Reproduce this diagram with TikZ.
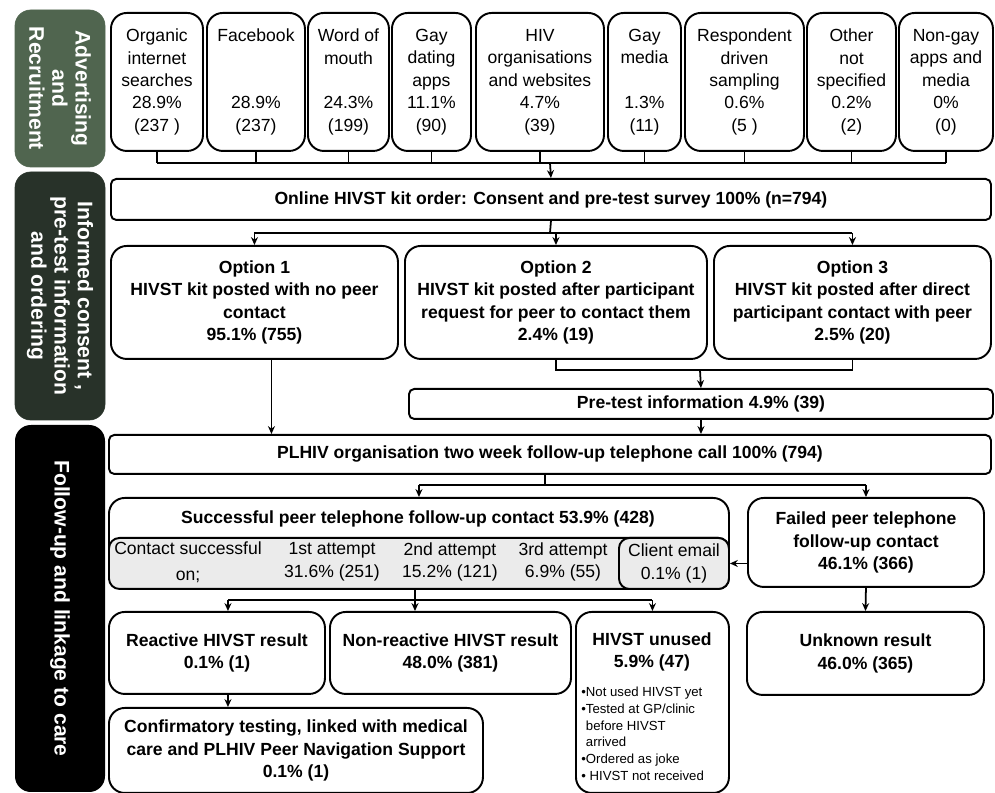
\documentclass[tikz,border=0pt]{standalone}
\usepackage{fontspec}
\setmainfont{Liberation Sans}
\usetikzlibrary{arrows.meta,positioning,calc}
\definecolor{advgreen}{HTML}{50654F}
\definecolor{infgreen}{HTML}{283229}
\definecolor{cellgray}{HTML}{EBEBEB}
\tikzset{
sz/.style 2 args={minimum width=#1*0.02cm, minimum height=#2*0.02cm},
box/.style={draw, line width=1.1pt, rounded corners=9pt, align=center, inner sep=0pt, anchor=north west},
bbox/.style={box, font=\fontsize{10}{12.8}\selectfont\bfseries},
bar/.style={bbox, rounded corners=3pt},
cell/.style={box, fill=cellgray, rounded corners=6pt},
side/.style={rotate=-90, rounded corners=9pt, text=white, align=center, inner sep=0pt, font=\fontsize{12}{13.2}\selectfont\bfseries},
arr/.style={-{Stealth[length=4.5pt,width=4pt]}, line width=1pt},
ln/.style={line width=1pt},
}
\tikzstyle{every node}=[font=\fontsize{10}{12.8}\selectfont]

\begin{document}
\begin{tikzpicture}[x=0.02cm, y=-0.02cm]
    \useasboundingbox (0,0) rectangle (995,793);

    % stage labels
    \node[side, fill=advgreen, draw=advgreen, sz={157}{90}] (adv) at (60,88.5) {Advertising\\and\\Recruitment};
    \node[side, fill=infgreen, draw=infgreen, sz={248}{90}] (inf) at (60,296) {Informed consent ,\\pre-test information\\and ordering};
    \node[side, fill=black, sz={367}{90}] (fol) at (60,608.5) {Follow-up and linkage to care};

    % recruitment sources
    \node[box, sz={92}{138}] (organic) at (110,12) {Organic\\internet\\searches\\28.9\%\\(237 )};
    \node[box, sz={98}{138}] (facebook) at (206,12) {Facebook\\~\\~\\28.9\%\\(237)};
    \node[box, sz={81}{138}] (wom) at (307,12) {Word of\\mouth\\~\\24.3\%\\(199)};
    \node[box, sz={79}{138}] (gayapps) at (391,12) {Gay\\dating\\apps\\11.1\%\\(90)};
    \node[box, sz={128}{138}] (hivorg) at (475,12) {HIV\\organisations\\and websites\\4.7\%\\(39)};
    \node[box, sz={73}{138}] (gaymedia) at (607,12) {Gay\\media\\~\\1.3\%\\(11)};
    \node[box, sz={119}{138}] (rds) at (684,12) {Respondent\\driven\\sampling\\0.6\%\\(5 )};
    \node[box, sz={89}{138}] (other) at (806,12) {Other\\not\\specified\\0.2\%\\(2)};
    \node[box, sz={94}{138}] (nongay) at (898,12) {Non-gay\\apps and\\media\\0\%\\(0)};

    \node[bar, sz={880}{41}] (online) at (110,178) {Online HIVST kit order: Consent and pre-test survey 100\% (n=794)};

    \coordinate (jtop) at (550,163);
    \foreach \n in {organic,facebook,wom,gayapps,hivorg,gaymedia,rds,other,nongay}
        \draw[ln] (\n.south) -- (\n.south |- jtop);
    \draw[ln] (organic.south |- jtop) -- (nongay.south |- jtop);
    \draw[arr] (jtop) -- (online.north);

    % ordering options
    \node[bbox, sz={287}{113}] (opt1) at (110,245) {Option 1\\HIVST kit posted with no peer\\contact\\95.1\% (755)};
    \node[bbox, sz={302}{113}] (opt2) at (404,245) {Option 2\\HIVST kit posted after participant\\request for peer to contact them\\2.4\% (19)};
    \node[bbox, sz={277}{113}] (opt3) at (713,245) {Option 3\\HIVST kit posted after direct\\participant contact with peer\\2.5\% (20)};

    \coordinate (jopt) at (550,233);
    \draw[ln] (online.south) -- (jopt);
    \draw[ln] (opt1.north |- jopt) -- (opt3.north |- jopt);
    \foreach \n in {opt1,opt2,opt3}
        \draw[arr] (\n.north |- jopt) -- (\n.north);

    \node[bar, sz={584}{30}] (pretest) at (408,388) {Pre-test information 4.9\% (39)};
    \coordinate (jpre) at (700,370);
    \draw[ln] (opt2.south) -- (opt2.south |- jpre) -- (opt3.south |- jpre) -- (opt3.south);
    \draw[arr] (jpre) -- (pretest.north);

    % follow-up
    \node[bar, sz={882}{39}] (plhiv) at (108,434) {PLHIV organisation two week follow-up telephone call 100\% (794)};
    \draw[arr] (pretest.south) -- (pretest.south |- plhiv.north);
    \draw[arr] ([xshift=0.34cm]opt1.south) -- ([xshift=0.34cm]opt1.south |- plhiv.north);

    \node[box, sz={620}{91}] (succ) at (108,497) {};
    \node[font=\fontsize{10}{12.8}\selectfont\bfseries] (succtitle) at (418,519) {Successful peer telephone follow-up contact 53.9\% (428)};
    \node[cell, sz={620}{51}] (attempts) at (108,537) {};
    \node[cell, sz={110}{51}] (email) at (618,537) {Client email\\0.1\% (1)};
    \node[align=center] (conton) at (188,562) {Contact successful\\[2pt]on;};
    \node[align=center] (first) at (332,562) {1st attempt\\31.6\% (251)};
    \node[align=center] (second) at (450,562) {2nd attempt\\15.2\% (121)};
    \node[align=center] (third) at (563,562) {3rd attempt\\6.9\% (55)};

    \node[bbox, sz={236}{89}] (failed) at (747,497) {Failed peer telephone\\follow-up contact\\46.1\% (366)};

    \coordinate (jfu) at (545,485);
    \draw[ln] (plhiv.south -| jfu) -- (jfu);
    \draw[ln] (succ.north |- jfu) -- (failed.north |- jfu);
    \draw[arr] (succ.north |- jfu) -- (succ.north);
    \draw[arr] (failed.north |- jfu) -- (failed.north);
    \draw[arr] (email.east -| failed.west) -- (email.east);

    % results
    \node[bbox, sz={216}{82}] (reactive) at (108,611) {Reactive HIVST result\\0.1\% (1)};
    \node[bbox, sz={241}{82}] (nonreact) at (329,611) {Non-reactive HIVST result\\48.0\% (381)};
    \node[box, sz={153}{181}] (unused) at (575,611) {};
    \node[font=\fontsize{10}{12.8}\selectfont\bfseries, align=center] (unusedtitle) at (652,652) {HIVST unused\\5.9\% (47)};
    \node[font=\fontsize{7.5}{9.5}\selectfont, align=left, anchor=north west, inner sep=0pt] (reasons) at (581,687)
        {\textbullet Not used HIVST yet\\\textbullet Tested at GP/clinic\\\phantom{\textbullet}before HIVST\\\phantom{\textbullet}arrived\\\textbullet Ordered as joke\\\textbullet{} HIVST not received};
    \node[bbox, sz={237}{83}] (unknown) at (746,611) {Unknown result\\46.0\% (365)};
    \node[bbox, sz={374}{85}] (confirm) at (108,707) {Confirmatory testing, linked with medical\\care and PLHIV Peer Navigation Support\\0.1\% (1)};

    \coordinate (jres) at (415,600);
    \coordinate (rtop) at ([xshift=0.22cm]reactive.north);
    \draw[arr] (succ.south -| jres) -- (jres |- nonreact.north);
    \draw[ln] (rtop |- jres) -- (unused.north |- jres);
    \draw[arr] (rtop |- jres) -- (rtop);
    \draw[arr] (unused.north |- jres) -- (unused.north);
    \draw[arr] (failed.south) -- (unknown.north);
    \draw[arr] (rtop |- reactive.south) -- (rtop |- confirm.north);
\end{tikzpicture}
\end{document}
